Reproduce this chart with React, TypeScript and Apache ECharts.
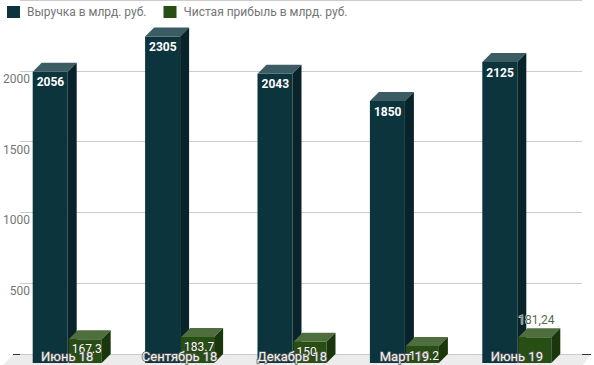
import React, { useEffect, useRef } from "react";
import * as echarts from "echarts";

const categories = ["Июнь 18", "Сентябрь 18", "Декабрь 18", "Март 19", "Июнь 19"];
const revenue = [2056, 2305, 2043, 1850, 2125];
const profit = [167.3, 183.7, 150, 119.2, 181.24];
const revenueLabels = ["2056", "2305", "2043", "1850", "2125"];
const profitLabels = ["167.3", "183.7", "150", "119.2", "181,24"];
const profitLabelInside = [true, true, true, true, false];
const seriesNames = ["Выручка в млрд. руб.", "Чистая прибыль в млрд. руб."];

const FONT = "Roboto, 'Noto Sans', sans-serif";
const DX = 9;
const DY = 9;

type Palette = { front: string; top: string; side: string };

function makeRender(
  pal: Palette,
  off0: number,
  off1: number,
  labels: string[],
  kind: "rev" | "profit"
) {
  return (params: any, api: any) => {
    const idx = api.value(0);
    const v = api.value(1);
    const top = api.coord([idx, v]);
    const base = api.coord([idx, 0]);
    const band = api.size([1, 0])[0];
    const k = band / 112.4;
    const xa = top[0] + off0 * k;
    const xb = top[0] + off1 * k;
    const yt = top[1];
    const yb = base[1];
    const bottom = yb + DY;
    const children: any[] = [
      {
        type: "rect",
        shape: { x: xa - DX, y: yt + DY, width: xb - xa, height: bottom - (yt + DY) },
        style: { fill: pal.front },
      },
      {
        type: "polygon",
        shape: { points: [[xa - DX, yt + DY], [xb - DX, yt + DY], [xb, yt], [xa, yt]] },
        style: { fill: pal.top },
      },
      {
        type: "polygon",
        shape: { points: [[xb - DX, yt + DY], [xb, yt], [xb, yb], [xb - DX, bottom]] },
        style: { fill: pal.side },
      },
    ];
    const i = params.dataIndex;
    if (kind === "rev") {
      children.push({
        type: "text",
        style: {
          text: labels[i],
          x: xa - DX + 4,
          y: yt + DY + 10.5,
          fill: "#ffffff",
          font: `bold 12px ${FONT}`,
          verticalAlign: "middle",
          align: "left",
        },
      });
    } else {
      const inside = profitLabelInside[i];
      children.push({
        type: "text",
        style: inside
          ? {
              text: labels[i],
              x: xa - DX + 3,
              y: yt + DY + 10,
              fill: "#ffffff",
              stroke: "rgba(40,40,40,0.55)",
              lineWidth: 1,
              font: `12px ${FONT}`,
              verticalAlign: "middle",
              align: "left",
            }
          : {
              text: labels[i],
              x: xa - DX,
              y: yt + DY - 17,
              fill: "#56674a",
              stroke: "#ffffff",
              lineWidth: 1,
              font: `12px ${FONT}`,
              verticalAlign: "middle",
              align: "left",
            },
      });
    }
    return { type: "group", children };
  };
}

export default function App() {
  const ref = useRef<HTMLDivElement>(null);
  useEffect(() => {
    document.body.style.margin = "0";
    if (!ref.current) return;
    const chart = echarts.init(ref.current, undefined, { renderer: "svg" });
    const option: any = {
      animation: false,
      backgroundColor: "#ffffff",
      textStyle: { fontFamily: FONT },
      legend: {
        left: 2,
        top: 1,
        itemWidth: 13,
        itemHeight: 12,
        itemGap: 17,
        icon: "rect",
        textStyle: { color: "#757575", fontSize: 12, fontFamily: FONT, padding: [0, 0, 0, 2] },
        data: seriesNames,
      },
      grid: { left: 20, right: 12, top: -3, bottom: 11 },
      xAxis: {
        type: "category",
        data: categories,
        z: 10,
        axisLine: { show: false },
        axisTick: { show: false },
        splitLine: { show: false },
        axisLabel: {
          margin: -4,
          fontSize: 13,
          fontFamily: FONT,
          color: "#f2f2f2",
          textBorderColor: "#5a5a5a",
          textBorderWidth: 1.5,
          padding: [0, 18, 0, 0],
        },
      },
      yAxis: {
        type: "value",
        min: 0,
        max: 2500,
        interval: 500,
        axisLine: { show: false },
        axisTick: { show: false },
        splitLine: { lineStyle: { color: "#cccccc", width: 1 } },
        axisLabel: {
          margin: -10,
          fontSize: 12,
          fontFamily: FONT,
          color: "#757575",
          verticalAlign: "top",
          padding: [2, 0, 0, 0],
          formatter: (v: number) => (v === 0 || v === 2500 ? "" : String(v)),
        },
      },
      graphic: [
        {
          type: "polygon",
          z: -1,
          shape: { points: [[13, 354.5], [591, 354.5], [582, 366], [2, 366]] },
          style: { fill: "#ececec" },
        },
        {
          type: "line",
          z: -1,
          shape: { x1: 13, y1: 354.5, x2: 591, y2: 354.5 },
          style: { stroke: "#333333", lineWidth: 1 },
        },
      ],
      series: [
        {
          name: seriesNames[0],
          type: "custom",
          z: 3,
          itemStyle: { color: "#0c343d" },
          encode: { x: 0, y: 1 },
          data: revenue.map((v, i) => [i, v]),
          renderItem: makeRender(
            { front: "#0c343d", top: "#3c5c63", side: "#082329" },
            -34.5,
            0.5,
            revenueLabels,
            "rev"
          ),
        },
        {
          name: seriesNames[1],
          type: "custom",
          z: 4,
          itemStyle: { color: "#274e13" },
          encode: { x: 0, y: 1 },
          data: profit.map((v, i) => [i, v]),
          renderItem: makeRender(
            { front: "#274e13", top: "#4f6e3d", side: "#1a360c" },
            1.5,
            34.5,
            profitLabels,
            "profit"
          ),
        },
      ],
    };
    chart.setOption(option);
    return () => chart.dispose();
  }, []);
  return (
    <div
      ref={ref}
      style={{ position: "absolute", left: 0, top: 0, width: 594, height: 365 }}
    />
  );
}
